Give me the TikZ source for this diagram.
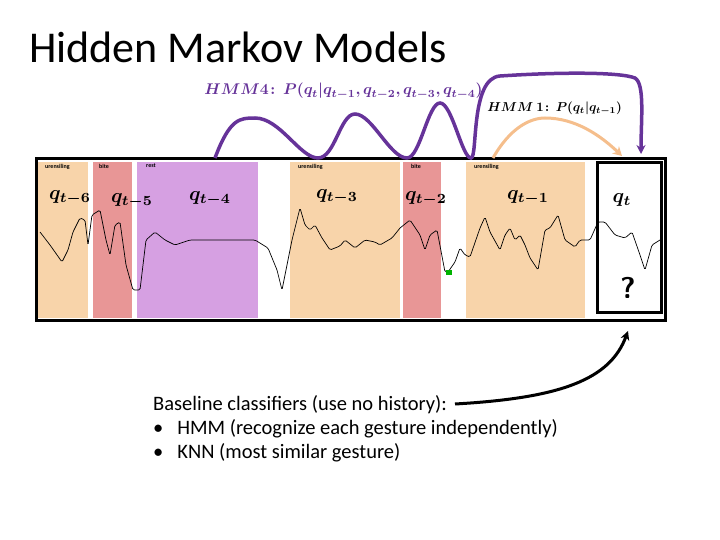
\documentclass[tikz,border=0pt]{standalone}
\usepackage{amsmath,bm}
\usepackage{fontspec}
\setmainfont{Carlito}
\usetikzlibrary{arrows.meta}
\definecolor{bor}{RGB}{248,212,170}
\definecolor{bred}{RGB}{232,150,150}
\definecolor{bpur}{RGB}{214,160,226}
\definecolor{hmm}{RGB}{102,51,153}
\definecolor{peach}{RGB}{245,190,140}
\tikzset{
 band/.style={draw=none,fill=#1},
 tag/.style={font=\fontsize{6}{6}\selectfont\bfseries,anchor=north west,inner sep=1pt},
 ql/.style={scale=2,text=black},
 body/.style={font=\fontsize{20.5}{24}\selectfont,anchor=west,inner sep=0pt},
 arc/.style={line width=3.5pt,color=hmm}
}
\begin{document}
\begin{tikzpicture}[x=1pt,y=-1pt]
\useasboundingbox (0,0) rectangle (720,540);
\node[anchor=west,font=\fontsize{44}{46}\selectfont,inner sep=0] (title) at (29,47) {Hidden Markov Models};
% bands
\fill[band=bor] (38,162) rectangle (88,318);
\fill[band=bred] (93,162) rectangle (132,318);
\fill[band=bpur] (137,162) rectangle (258,318);
\fill[band=bor] (290,162) rectangle (400,318);
\fill[band=bred] (403,162) rectangle (441,318);
\fill[band=bor] (466,162) rectangle (585,318);
\node[tag] (l1) at (44,163) {urensiling};
\node[tag] (l2) at (98,163) {bite};
\node[tag] (l3) at (145,163) {rest};
\node[tag] (l5) at (297,163) {urensiling};
\node[tag] (l6) at (410,163) {bite};
\node[tag] (l7) at (473,163) {urensiling};
% signal
\draw[black,line width=0.7pt,rounded corners=1.5pt] plot coordinates {(40,232)(50,245)(62,262)(68,250)(73,232)(80,218)(85,220)(88,245)(92,215)(100,210)(106,240)(110,255)(115,225)(120,222)(126,265)(133,290)(140,290)(146,240)(155,232)(165,240)(175,245)(190,240)(230,240)(255,240)(268,248)(277,270)(282,290)(292,240)(300,208)(305,225)(310,230)(315,225)(322,238)(330,250)(340,246)(345,240)(355,248)(365,240)(375,242)(380,245)(392,238)(400,228)(410,220)(420,235)(425,250)(430,235)(437,230)(445,272)(448,272)(455,262)(460,248)(465,255)(470,257)(480,228)(485,217)(490,232)(500,250)(505,235)(510,228)(515,240)(520,235)(525,245)(530,258)(538,270)(545,230)(550,228)(558,215)(565,240)(575,247)(580,240)(590,240)(598,222)(605,222)(615,235)(625,238)(632,232)(640,255)(645,270)(652,245)(660,240)};
\fill[green!70!black] (446,270) rectangle (452,275);
% frame
\draw[line width=3pt] (36,159) rectangle (665,320);
\draw[line width=3pt] (597,163) rectangle (661,312);
\node[font=\fontsize{30}{30}\selectfont\sffamily\bfseries] (qm) at (628,288) {?};
% q labels
\node[ql] (q6) at (70,198) {$\bm{q_{t-6}}$};
\node[ql] (q5) at (132,201) {$\bm{q_{t-5}}$};
\node[ql] (q4) at (210,199) {$\bm{q_{t-4}}$};
\node[ql] (q3) at (337,197) {$\bm{q_{t-3}}$};
\node[ql] (q2) at (426,199) {$\bm{q_{t-2}}$};
\node[ql] (q1) at (528,198) {$\bm{q_{t-1}}$};
\node[ql] (q0) at (622,200) {$\bm{q_t}$};
% formulas
\node[anchor=west,inner sep=0,text=hmm,scale=1.55] (f4) at (204,91) {$\bm{HMM4\!:\ P(q_t|q_{t-1},q_{t-2},q_{t-3},q_{t-4})}$};
\node[anchor=west,inner sep=0,scale=1.29] (f1) at (487,108) {$\bm{HMM\ 1\!:\ P(q_t|q_{t-1})}$};
% arcs
\coordinate (s0) at (215,158);
\coordinate (v1) at (318,158);
\coordinate (v2) at (407,158);
\coordinate (v3) at (471,158);
\coordinate (tip) at (641,154);
\draw[arc,-{Stealth[length=9pt,width=9pt]}] (s0) .. controls (230,118) and (240,118) .. (255,118)
  .. controls (280,118) and (300,158) .. (v1)
  .. controls (335,158) and (340,114) .. (355,114)
  .. controls (372,114) and (390,158) .. (v2)
  .. controls (420,158) and (428,103) .. (440,103)
  .. controls (452,103) and (462,158) .. (v3)
  .. controls (478,158) and (470,78) .. (500,76)
  .. controls (560,72) and (620,72) .. (635,78)
  .. controls (645,84) and (641,120) .. (tip);
\coordinate (o0) at (493,158);
\coordinate (o1) at (622,156);
\draw[line width=3pt,peach,-{Stealth[length=9pt,width=10pt]}] (o0) .. controls (510,128) and (530,118) .. (545,118) .. controls (575,118) and (600,135) .. (o1);
% bottom text
\node[body] (t1) at (153,405) {Baseline classifiers (use no history):};
\node[body] (t2) at (153,429) {•\hspace{14pt}HMM (recognize each gesture independently)};
\node[body] (t3) at (153,453) {•\hspace{14pt}KNN (most similar gesture)};
\coordinate (ar) at (628,331);
\draw[line width=3pt,-{Stealth[length=9pt,width=9pt]}] (455,404) .. controls (560,398) and (610,380) .. (ar);
\end{tikzpicture}
\end{document}
